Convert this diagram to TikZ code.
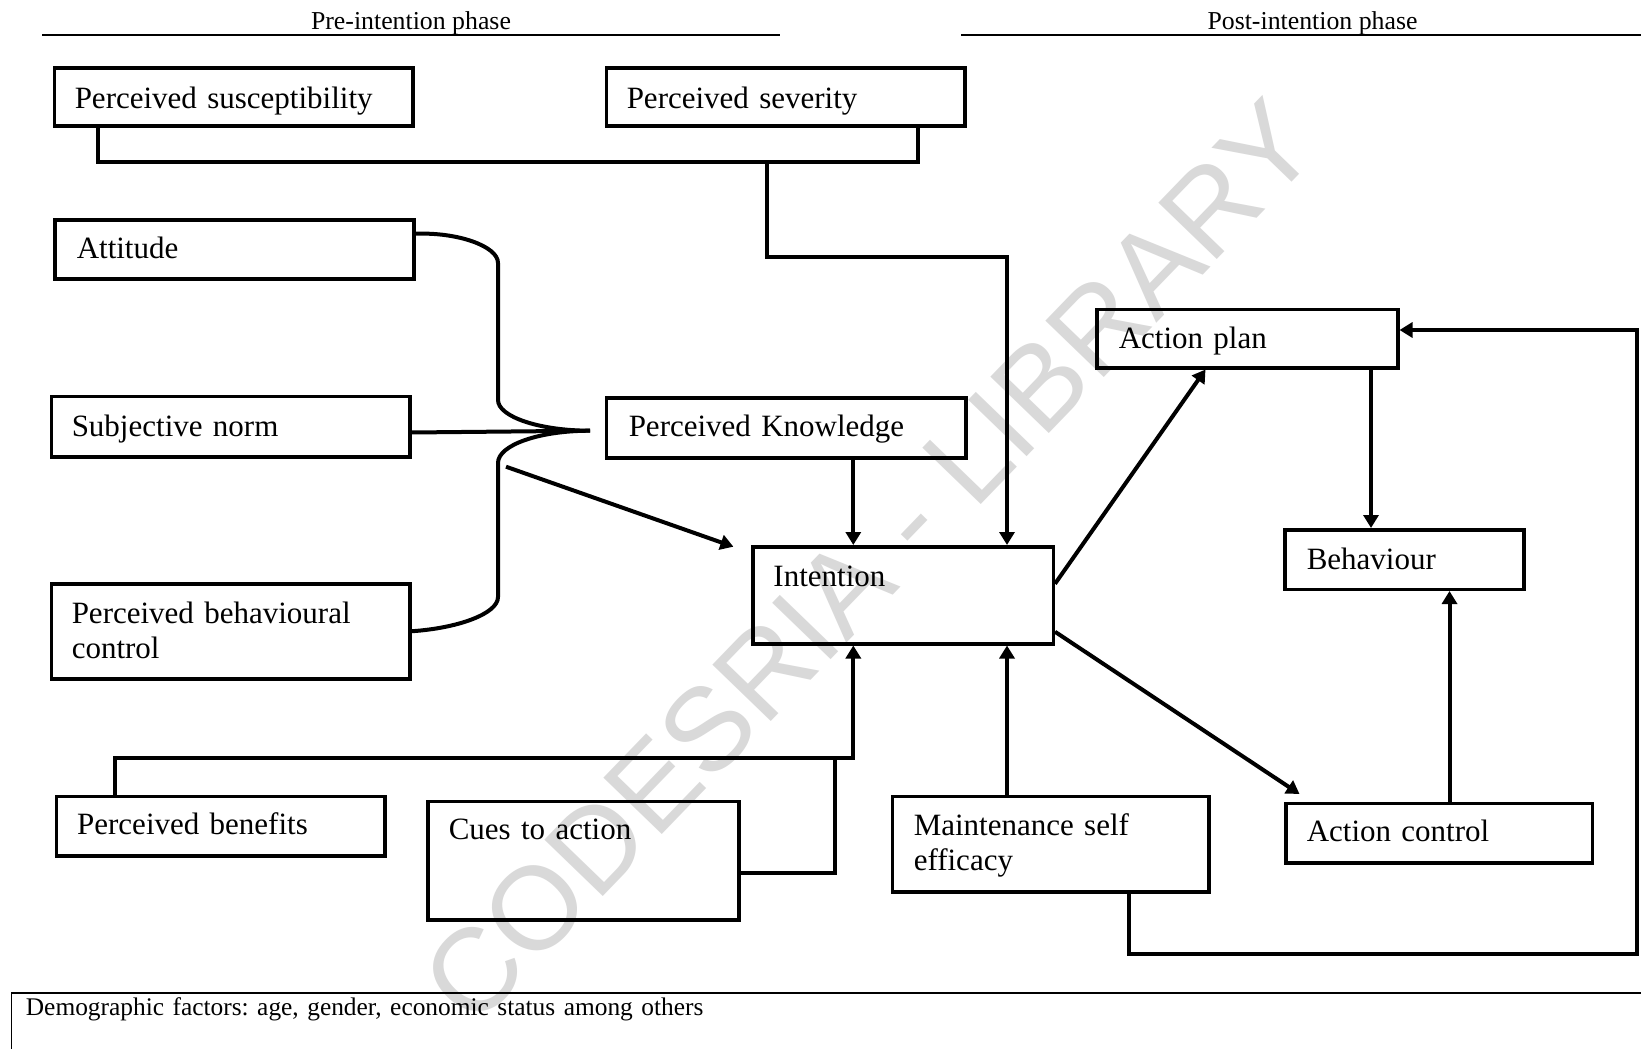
\documentclass[tikz,border=0pt]{standalone}
\usepackage{fontspec}
\setmainfont{Liberation Serif}
\newfontfamily\wmfont{Liberation Sans}
\usetikzlibrary{arrows.meta,calc}
\definecolor{wmgray}{RGB}{217,217,217}
\frenchspacing

% \placebox{name}{x1}{y1}{x2}{y2}{text x}{first baseline y}{text}
% corners and text position are given in picture units (y grows downwards)
\newcommand{\placebox}[8]{%
  \pgfmathsetmacro\pbxs{(#6-#2)*0.5}%
  \pgfmathsetmacro\pbtw{(#4-#2)*0.5-2*\pbxs}%
  \pgfmathsetmacro\pbth{(#7-#3)*0.5}%
  \pgfmathsetmacro\pbtd{(#5-#7)*0.5}%
  \node[panel, inner xsep=\pbxs pt, text width=\pbtw pt,
        text height=\pbth pt, text depth=\pbtd pt] (#1) at (#2,#3) {#8};%
}

\begin{document}
\begin{tikzpicture}[x=0.5pt, y=-0.5pt,
  panel/.style={draw, line width=1.75pt, rectangle, anchor=north west,
                inner ysep=0pt, align=left,
                font=\fontsize{15.5}{17.5}\selectfont},
  conn/.style={line width=2pt},
  arr/.style={conn, -{Triangle[length=6.5pt,width=7.5pt]}},
  small/.style={font=\fontsize{12.9}{15}\selectfont},
  rule/.style={line width=0.9pt},
  wm/.style={text=wmgray, font=\wmfont\fontsize{59}{62}\selectfont, inner sep=0pt}
]
\useasboundingbox (0,0) rectangle (1641,1048);
\clip (0,0) rectangle (1641,1048);
\fill[white] (0,0) rectangle (1641,1048);

% watermark behind everything
\node[wm, rotate=46] (wmark) at (869,562) {CODESRIA - LIBRARY};

% phase headings
\node[small, anchor=base] (pre) at (411,29.3) {Pre-intention phase};
\node[small, anchor=base] (post) at (1312.5,29.3) {Post-intention phase};
\coordinate (preL) at (42,35);   \coordinate (preR) at (779.5,35);
\coordinate (postL) at (961,35); \coordinate (postR) at (1641,35);
\draw[rule] (preL) -- (preR);
\draw[rule] (postL) -- (postR);

% boxes
\placebox{sus}{52.5}{66.5}{411}{124.5}{73}{107}{Perceived susceptibility}
\placebox{sev}{604.5}{66.5}{963}{124.5}{625}{107}{Perceived severity}
\placebox{att}{53}{218}{412}{277}{75}{257}{Attitude}
\placebox{sn}{49.5}{394.5}{408}{455}{70}{435}{Subjective norm}
\placebox{pbc}{49.5}{582}{408}{677}{70}{621.5}{Perceived behavioural\\control}
\placebox{pk}{604.5}{396}{964}{456}{627}{435}{Perceived Knowledge}
\placebox{int}{751}{545}{1051.5}{642}{771.7}{585}{Intention}
\placebox{ap}{1095}{307.5}{1396}{366}{1117}{347}{Action plan}
\placebox{beh}{1283}{528}{1522}{587.5}{1305}{567.5}{Behaviour}
\placebox{pb}{54.5}{794.5}{383}{854}{75.4}{833}{Perceived benefits}
\placebox{cue}{426}{799.5}{737}{918}{447}{838}{Cues to action}
\placebox{mse}{890.6}{794.5}{1207}{890}{912}{833.5}{Maintenance self\\efficacy}
\placebox{ac}{1284}{801.5}{1590.5}{861}{1305}{840}{Action control}

% demographic strip along the bottom
\node[draw, line width=0.9pt, anchor=north west, align=left,
      font=\fontsize{12.7}{15}\selectfont,
      inner xsep=7.25pt, inner ysep=0pt, text width=900pt,
      text height=11.5pt, text depth=40pt] (demo) at (10.5,992)
  {Demographic factors: age, gender, economic status among others};

% susceptibility + severity feed into intention
\draw[conn] (sus.south -| 97.6,0) |- (918,161.7) -- (sev.south -| 918,0);
\coordinate (hbj) at (767,161.7);
\draw[arr] (hbj) |- (1007,257.3) -- (int.north -| 1007,0);

% attitude / subjective norm / behavioural control brace
\coordinate (tip) at (590,430.7);
\draw[conn] ([yshift=7.75pt]att.east)
  .. controls (457,232) and (498,246) .. (498,263) -- (498,400)
  .. controls (498,416.6) and (539,430.7) .. (tip)
  .. controls (539,430.7) and (498,445) .. (498,463) -- (498,597)
  .. controls (498,614) and (457,628.3) .. (pbc.east);
\draw[conn] ([yshift=-3pt]sn.east) -- (tip);
\coordinate (bout) at (506,466.7);
\draw[arr] (bout) -- ($(int.north west)+(-17.6,1.7)$);

% knowledge into intention
\draw[arr] (pk.south -| 853.3,0) -- (int.north -| 853.3,0);

% benefits and cues into intention
\draw[arr] (pb.north -| 115,0) |- (853.3,758.3) -- (int.south -| 853.3,0);
\draw[conn] (cue.east |- 0,872.7) -| (835,758.3);

% maintenance self efficacy into intention
\draw[arr] (mse.north -| 1007,0) -- (int.south -| 1007,0);

% intention to action plan and action control
\draw[arr] ([yshift=5.75pt]int.east) -- (ap.south -| 1205.5,0);
\draw[arr] ([yshift=-18.25pt]int.east) -- ($(ac.north west)+(15.5,-7.5)$);

% action plan / action control to behaviour
\draw[arr] (ap.south -| 1371,0) -- (beh.north -| 1371,0);
\draw[arr] (ac.north -| 1449.5,0) -- (beh.south -| 1449.5,0);

% feedback loop from maintenance self efficacy to action plan
\draw[arr] (mse.south -| 1128.5,0) -- (1128.5,954) -- (1636.5,954)
  -- (1636.5,330) -- (ap.east |- 0,330);
\end{tikzpicture}
\end{document}
